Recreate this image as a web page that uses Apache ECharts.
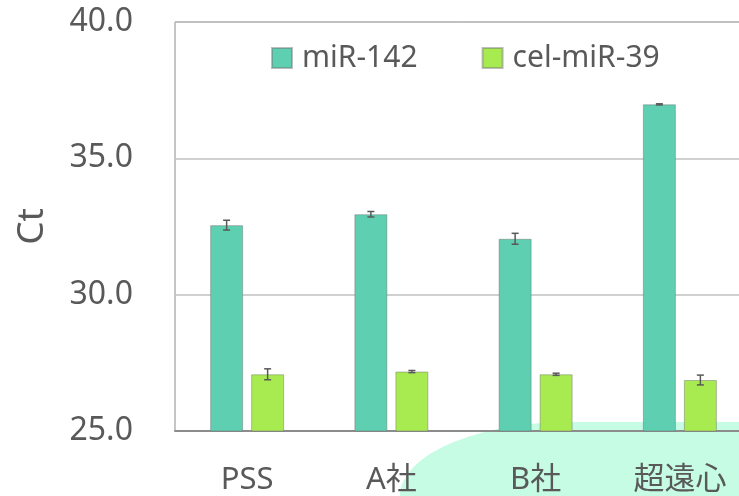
<!DOCTYPE html>
<html lang="ja">
<head>
    <meta charset="UTF-8">
    <title>Ct</title>
    <script src="https://cdn.jsdelivr.net/npm/echarts@6/dist/echarts.min.js"></script>
    <style>
        *{
            margin: 0;
            padding: 0;
        }
        body{
            width: 739px;
            height: 496px;
            overflow: hidden;
            background: #fff;
        }
        .container{
            width: 739px;
            height: 496px;
        }
    </style>
</head>
<body>
<div class="container"></div>
<script>
    // data
    let categories = ['PSS', 'A社', 'B社', '超遠心'];
    let seriesNames = ['miR-142', 'cel-miR-39'];
    let mir142 = [32.55, 32.95, 32.05, 36.98];
    let mir142Err = [0.18, 0.1, 0.2, 0.02];
    let cel39 = [27.08, 27.18, 27.08, 26.87];
    let cel39Err = [0.2, 0.04, 0.04, 0.18];
    let yTicks = [25, 30, 35, 40];

    let container = document.querySelector('.container');
    let mycharts = echarts.init(container);

    let textColor = '#595959';
    let font = "'Noto Sans', 'Noto Sans CJK JP', sans-serif";
    let barWidth = 33;
    let barSpace = 8;
    let colors = ['#5ecfb1', '#a8eb50'];

    // error bars drawn on top of the bars
    function errorSeries(values, errs, idx) {
        let shift = (idx === 0 ? -1 : 1) * (barWidth + barSpace) / 2;
        return {
            type: 'custom',
            name: seriesNames[idx] + ' err',
            z: 5,
            silent: true,
            data: values.map((v, i) => [i, v - errs[i], v + errs[i]]),
            renderItem: function (params, api) {
                let lo = api.coord([api.value(0), api.value(1)]);
                let hi = api.coord([api.value(0), api.value(2)]);
                let x = lo[0] + shift;
                let cap = 3.5;
                let style = {stroke: '#595959', lineWidth: 1.5};
                return {
                    type: 'group',
                    children: [
                        {type: 'line', shape: {x1: x, y1: lo[1], x2: x, y2: hi[1]}, style},
                        {type: 'line', shape: {x1: x - cap, y1: lo[1], x2: x + cap, y2: lo[1]}, style},
                        {type: 'line', shape: {x1: x - cap, y1: hi[1], x2: x + cap, y2: hi[1]}, style}
                    ]
                };
            }
        };
    }

    let options = {
        animation: false,
        textStyle: {fontFamily: font},
        graphic: [
            {
                type: 'ellipse',
                z: -10,
                shape: {cx: 570, cy: 496, rx: 170, ry: 74},
                style: {fill: '#c5fce3'}
            },
            {
                type: 'rect',
                z: -10,
                shape: {x: 569, y: 422, width: 200, height: 80},
                style: {fill: '#c5fce3'}
            }
        ],
        grid: {
            left: 175,
            top: 22,
            right: -13,
            bottom: 65,
            outerBoundsMode: 'none',
            containLabel: false,
            show: true,
            borderColor: '#8c8c8c',
            borderWidth: 1
        },
        legend: {
            left: 271,
            top: 43,
            padding: 0,
            itemWidth: 20,
            itemHeight: 20,
            itemGap: 64,
            icon: 'rect',
            data: seriesNames,
            textStyle: {
                color: textColor,
                fontSize: 30,
                fontFamily: font,
                padding: [0, 0, 0, 5]
            }
        },
        xAxis: {
            type: 'category',
            data: categories,
            axisTick: {show: false},
            axisLine: {lineStyle: {color: '#8c8c8c', width: 2}},
            axisLabel: {
                color: textColor,
                fontSize: 31,
                margin: 34,
                fontFamily: font
            }
        },
        yAxis: {
            type: 'value',
            min: 25,
            max: 40,
            interval: 5,
            name: 'Ct',
            nameLocation: 'middle',
            nameGap: 124,
            nameRotate: 90,
            nameTextStyle: {color: textColor, fontSize: 37, fontFamily: font},
            axisLine: {show: false},
            axisTick: {show: false},
            axisLabel: {
                color: textColor,
                fontSize: 32,
                margin: 42,
                fontFamily: font,
                formatter: v => yTicks.includes(v) ? v.toFixed(1) : ''
            },
            splitLine: {lineStyle: {color: '#c0c0c0', width: 1.5}}
        },
        series: [
            {
                name: seriesNames[0],
                type: 'bar',
                data: mir142,
                barWidth: barWidth,
                barGap: (barSpace / barWidth * 100) + '%',
                itemStyle: {color: colors[0], borderColor: 'rgba(110,110,110,0.45)', borderWidth: 1}
            },
            {
                name: seriesNames[1],
                type: 'bar',
                data: cel39,
                barWidth: barWidth,
                itemStyle: {color: colors[1], borderColor: 'rgba(110,110,110,0.45)', borderWidth: 1}
            },
            errorSeries(mir142, mir142Err, 0),
            errorSeries(cel39, cel39Err, 1)
        ]
    };

    mycharts.setOption(options);
</script>
</body>
</html>
